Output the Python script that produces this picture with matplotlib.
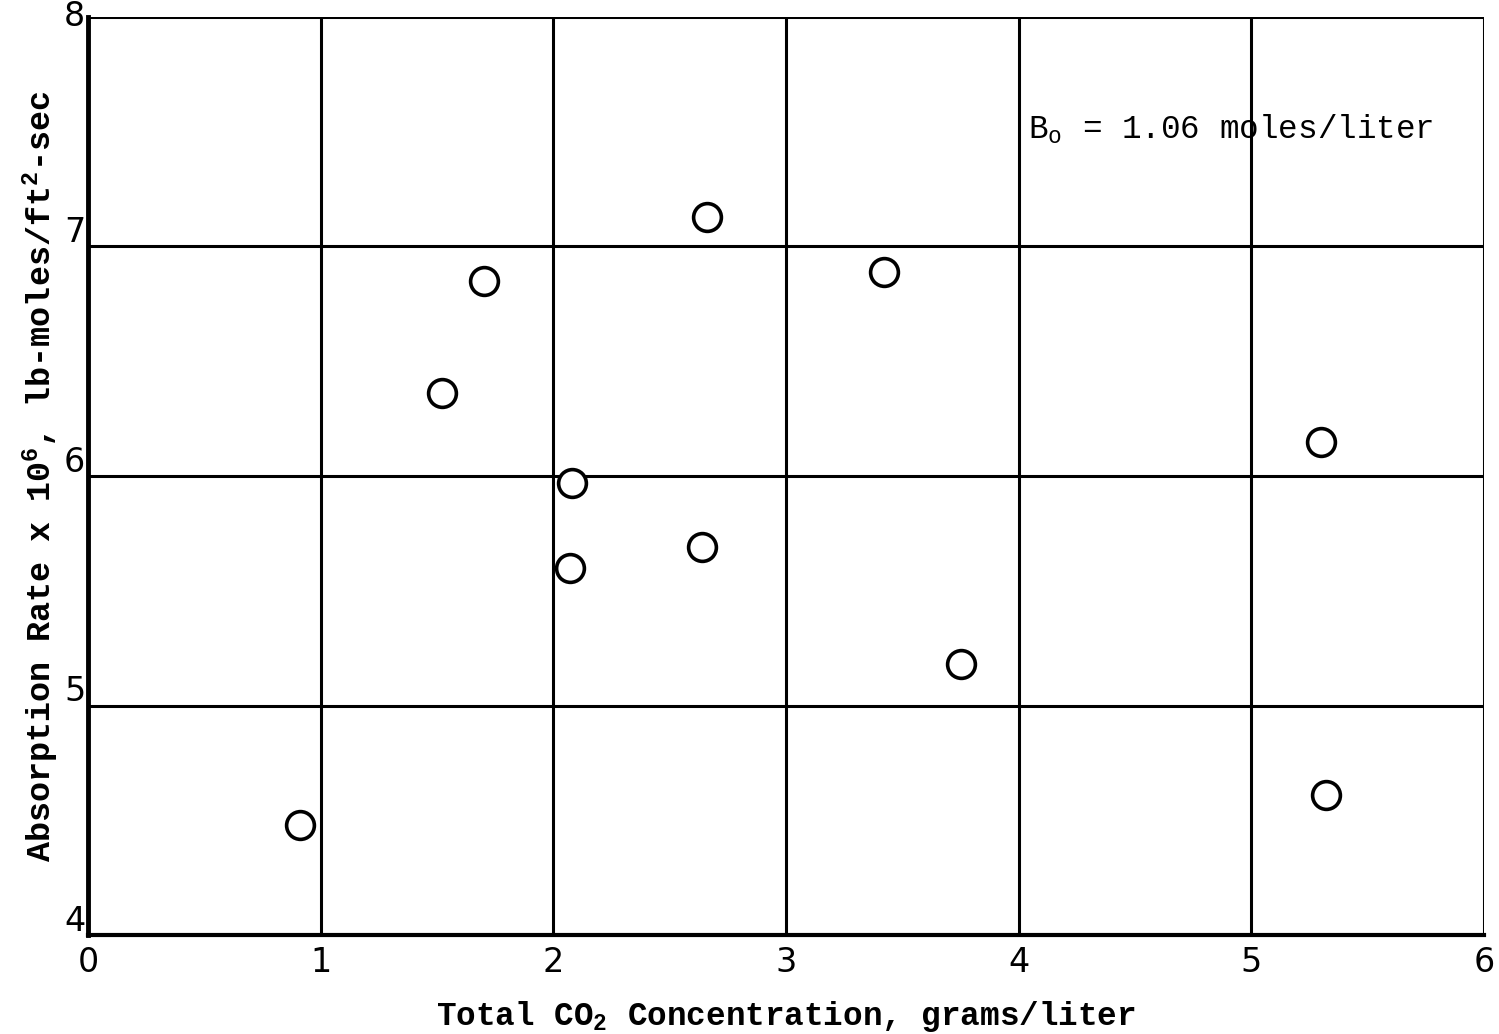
import matplotlib
matplotlib.use("Agg")
import matplotlib.pyplot as plt
from matplotlib.transforms import ScaledTranslation

# Total CO2 concentration (g/L) and absorption rate (x 10^6 lb-moles/ft^2-sec)
co2_conc = [0.91, 1.52, 1.70, 2.08, 2.07, 2.66, 2.64, 3.42, 3.75, 5.30, 5.32]
abs_rate = [4.48, 6.36, 6.85, 5.97, 5.60, 7.13, 5.69, 6.89, 5.18, 6.15, 4.61]

x_ticks = [0, 1, 2, 3, 4, 5, 6]
y_ticks = [4, 5, 6, 7, 8]

plt.rcParams["mathtext.default"] = "regular"
mono = ["Liberation Mono", "DejaVu Sans Mono"]

fig = plt.figure(figsize=(14.99, 10.34), dpi=100)
ax = fig.add_axes([0.0587, 0.0957, 0.9313, 0.8879])

ax.set_xlim(0, 6)
ax.set_ylim(4, 8)
ax.set_xticks(x_ticks)
ax.set_yticks(y_ticks)
ax.grid(True, color="black", linewidth=2.2)
ax.set_axisbelow(True)

for side in ["top", "right"]:
    ax.spines[side].set_visible(False)
ax.spines["left"].set_linewidth(3.5)
ax.spines["bottom"].set_linewidth(3.0)
ax.tick_params(axis="x", length=0, labelsize=24, pad=8)
ax.tick_params(axis="y", length=0, labelsize=24, pad=2)
for lab in ax.get_xticklabels() + ax.get_yticklabels():
    lab.set_fontfamily("DejaVu Sans")
lift = ScaledTranslation(0, 10 / 72, fig.dpi_scale_trans)
for lab in ax.get_yticklabels():
    lab.set_verticalalignment("center")
    if lab.get_text() != "8":
        lab.set_transform(lab.get_transform() + lift)

ax.scatter(co2_conc, abs_rate, s=400, facecolors="white", edgecolors="black",
           linewidths=2.6, zorder=3, clip_on=False)

ax.set_xlabel("Total CO$_2$ Concentration, grams/liter", fontsize=23.5,
              family=mono, fontweight="bold", labelpad=14)
ax.set_ylabel("Absorption Rate x 10$^6$, lb-moles/ft$^2$-sec", fontsize=24,
              family=mono, fontweight="bold", labelpad=2)

ax.text(4.04, 7.51, "B$_o$ = 1.06 moles/liter", fontsize=23.5, family=mono,
        va="center", ha="left")

fig.savefig("out.png", dpi=100, facecolor="white")
